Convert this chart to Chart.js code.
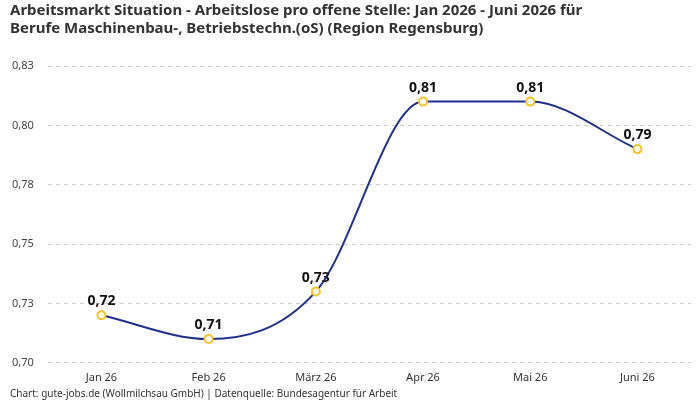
<!DOCTYPE html>
<html><head><meta charset="utf-8">
<script src="https://cdn.jsdelivr.net/npm/chart.js@4"></script>
<style>html,body{margin:0;padding:0;background:#fff}#w{width:700px;height:400px}</style>
</head><body><div id="w"><canvas id="c"></canvas></div>
<script>
const categories = ["Jan 26","Feb 26","März 26","Apr 26","Mai 26","Juni 26"];
const values = [0.72, 0.71, 0.73, 0.81, 0.81, 0.79];
const titleLines = ["Arbeitsmarkt Situation - Arbeitslose pro offene Stelle: Jan 2026 - Juni 2026 für","Berufe Maschinenbau-, Betriebstechn.(oS) (Region Regensburg)"];
const sourceText = "Chart: gute-jobs.de (Wollmilchsau GmbH) | Datenquelle: Bundesagentur für Arbeit";
const FONT = "'Noto Sans', 'Open Sans', sans-serif";
function fmt(v){ return (Math.round(v*100+1e-7)/100).toFixed(2).replace('.',','); }
const labelPlugin = {
  id:'pointLabels',
  afterDatasetsDraw(chart){
    const ctx = chart.ctx; const meta = chart.getDatasetMeta(0);
    ctx.save(); ctx.font = "bold 14px " + FONT; ctx.fillStyle = "#111";
    ctx.textAlign = "center"; ctx.textBaseline = "bottom";
    meta.data.forEach((p,i)=>{ ctx.fillText(fmt(values[i]), p.x, p.y - 7); });
    ctx.restore();
  }
};
new Chart(document.getElementById('c'), {
  type:'line',
  data:{ labels:categories, datasets:[{ data:values, borderColor:'#1f2f8f', borderWidth:2,
    cubicInterpolationMode:'monotone', pointRadius:4, pointHoverRadius:4,
    pointBackgroundColor:'#fff', pointBorderColor:'#f7c325', pointBorderWidth:2, fill:false }]},
  options:{
    responsive:true, maintainAspectRatio:false, animation:false,
    layout:{ padding:{ left:10, right:9, top:0, bottom:0 } },
    plugins:{
      legend:{ display:false }, tooltip:{ enabled:false },
      title:{ display:true, text:titleLines, align:'start', color:'#333',
        font:{ family:FONT, size:15, weight:'bold', lineHeight:1.2 }, padding:{ top:2, bottom:28 } },
      subtitle:{ display:true, text:sourceText, position:'bottom', align:'start', color:'#333',
        font:{ family:FONT, size:10 }, padding:{ top:4, bottom:0 } }
    },
    scales:{
      x:{ offset:true, grid:{ display:false }, border:{ display:false },
        ticks:{ color:'#333', font:{ family:FONT, size:11 }, padding:0 } },
      y:{ min:0.70, max:0.825, border:{ display:false, dash:[4,4] },
        grid:{ color:'#cccccc', drawTicks:false },
        afterFit:(s)=>{ s.width -= 12; },
        ticks:{ stepSize:0.025, color:'#444', font:{ family:FONT, size:11 }, padding:14, callback:(v)=>fmt(v) } }
    }
  },
  plugins:[labelPlugin]
});
</script></body></html>
